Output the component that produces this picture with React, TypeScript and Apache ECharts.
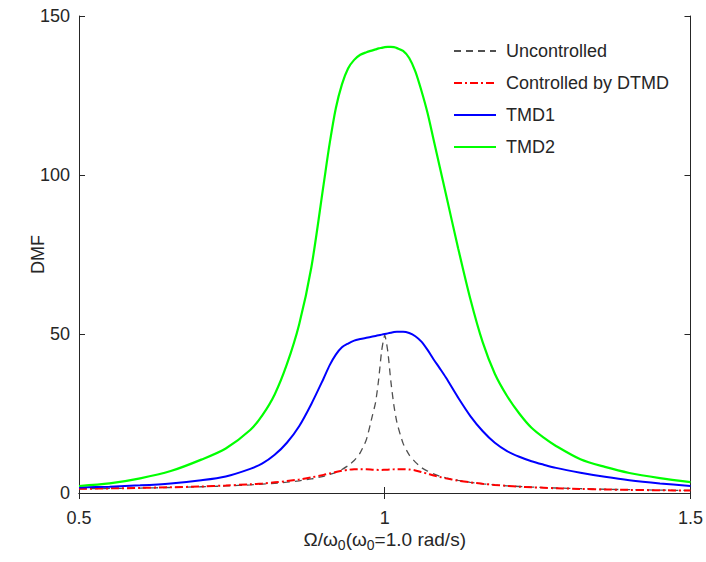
import React, { useEffect, useRef } from "react";
import * as echarts from "echarts";

const xs = [
  0.5, 0.55, 0.6, 0.65, 0.7, 0.74, 0.78, 0.8, 0.82, 0.84, 0.86, 0.88, 0.9, 0.91, 0.92, 0.93, 0.94, 0.95, 0.96,
  0.97, 0.98, 0.985, 0.99, 0.995, 1.0, 1.005, 1.01, 1.015, 1.02, 1.03, 1.04, 1.05, 1.06, 1.07, 1.08, 1.09, 1.1,
  1.12, 1.14, 1.16, 1.18, 1.2, 1.22, 1.24, 1.26, 1.28, 1.32, 1.36, 1.4, 1.45, 1.5,
];

const uncontrolled = [
  1.33, 1.43, 1.56, 1.73, 1.96, 2.21, 2.55, 2.78, 3.05, 3.4, 3.84, 4.43, 5.26, 5.8, 6.5, 7.4, 8.6, 10.2, 12.7,
  16.8, 24.5, 28.5, 35.6, 44.8, 49.6, 44.5, 35.1, 27.5, 22.1, 15.6, 12.0, 9.7, 8.0, 6.9, 6.0, 5.3, 4.76,
  3.95, 3.34, 2.89, 2.55, 2.27, 2.05, 1.86, 1.7, 1.57, 1.35, 1.18, 1.04, 0.91, 0.8,
];

const dtmd = [
  1.3, 1.45, 1.6, 1.8, 2.05, 2.35, 2.75, 3.0, 3.35, 3.75, 4.25, 4.9, 5.7, 6.15, 6.6, 7.0, 7.3, 7.45, 7.5,
  7.45, 7.35, 7.3, 7.25, 7.25, 7.3, 7.35, 7.4, 7.45, 7.5, 7.5, 7.4, 7.1, 6.6, 6.05, 5.5, 5.05, 4.6,
  3.9, 3.35, 2.9, 2.55, 2.25, 2.0, 1.8, 1.65, 1.5, 1.28, 1.1, 0.98, 0.86, 0.78,
];

const tmd1 = [
  1.7, 2.0, 2.4, 3.0, 4.0, 5.2, 7.6, 9.3, 12.0, 15.8, 21.0, 28.0, 36.0, 40.2, 43.5, 45.8, 47.0, 47.9, 48.4,
  48.8, 49.2, 49.4, 49.6, 49.8, 50.0, 50.2, 50.4, 50.6, 50.7, 50.7, 50.3, 49.3, 47.6, 45.0, 42.0, 39.2, 36.3,
  30.0, 24.2, 19.5, 15.8, 13.2, 11.4, 10.0, 8.9, 7.9, 6.4, 5.1, 4.0, 3.0, 2.2,
];

const tmd2 = [
  2.2, 3.0, 4.6, 6.9, 10.5, 14.0, 19.8, 24.5, 31.0, 40.5, 53.0, 71.0, 97.0, 110.0, 121.0, 128.5, 133.5, 136.2,
  137.8, 138.6, 139.2, 139.5, 139.8, 140.0, 140.2, 140.3, 140.3, 140.2, 139.9, 139.0, 136.8, 132.6, 126.5, 119.5,
  111.0, 102.5, 94.0, 77.0, 61.0, 47.5, 37.5, 30.5, 25.0, 20.5, 17.4, 14.8, 10.6, 8.2, 6.3, 4.7, 3.4,
];

const seriesNames = ["Uncontrolled", "Controlled by DTMD", "TMD1", "TMD2"];
const xTicks = { min: 0.5, max: 1.5, interval: 0.5 };
const yTicks = { min: 0, max: 150, interval: 50 };

const FONT = "Arial, 'Liberation Sans', Helvetica, sans-serif";
const AXIS_COLOR = "#262626";

export default function App() {
  const ref = useRef<HTMLDivElement>(null);

  useEffect(() => {
    document.body.style.margin = "0";
    if (!ref.current) return;
    const chart = echarts.init(ref.current, null, { renderer: "svg" });
    const pairs = (ys: number[]) => xs.map((x, i) => [x, ys[i]]);
    const boxAxis = {
      axisLine: { show: true, lineStyle: { color: AXIS_COLOR, width: 1 } },
      axisTick: { show: true, inside: true, length: 6, lineStyle: { color: AXIS_COLOR } },
      splitLine: { show: false },
    };
    chart.setOption({
      animation: false,
      backgroundColor: "#ffffff",
      textStyle: { fontFamily: FONT },
      grid: { left: 79, right: 15, top: 16, bottom: 69, containLabel: false },
      legend: {
        orient: "vertical",
        left: 448,
        top: 37,
        itemWidth: 42,
        itemHeight: 14,
        itemGap: 14,
        data: seriesNames,
        itemStyle: { opacity: 0 },
        textStyle: { fontSize: 18, color: "#262626", fontFamily: FONT, padding: [0, 0, 0, 5] },
      },
      xAxis: [
        {
          type: "value",
          ...xTicks,
          position: "bottom",
          ...boxAxis,
          axisLabel: {
            fontSize: 18,
            color: AXIS_COLOR,
            margin: 16,
            fontFamily: FONT,
            formatter: (v: number) => String(v),
          },
          name: "{a|Ω/ω}{s|0}{a|(ω}{s|0}{a|=1.0 rad/s)}",
          nameLocation: "middle",
          nameGap: 33,
          nameMoveOverlap: false,
          nameTextStyle: {
            rich: {
              a: { fontSize: 19, color: AXIS_COLOR, fontFamily: FONT },
              s: { fontSize: 14, color: AXIS_COLOR, fontFamily: FONT, padding: [12, 0, 0, 0] },
            },
          },
        },
        {
          type: "value",
          ...xTicks,
          position: "top",
          ...boxAxis,
          axisLabel: { show: false },
        },
      ],
      yAxis: [
        {
          type: "value",
          ...yTicks,
          position: "left",
          ...boxAxis,
          axisLabel: { fontSize: 18, color: AXIS_COLOR, margin: 9, fontFamily: FONT },
          name: "DMF",
          nameLocation: "middle",
          nameGap: 32,
          nameMoveOverlap: false,
          nameTextStyle: { fontSize: 18, color: AXIS_COLOR, fontFamily: FONT },
        },
        {
          type: "value",
          ...yTicks,
          position: "right",
          ...boxAxis,
          axisLabel: { show: false },
        },
      ],
      series: [
        {
          name: seriesNames[0],
          type: "line",
          data: pairs(uncontrolled),
          showSymbol: false,
          symbol: "none",
          smooth: 0.2,
          color: "#505050",
          lineStyle: { color: "#505050", width: 1.3, type: [7, 5] },
          z: 3,
        },
        {
          name: seriesNames[1],
          type: "line",
          data: pairs(dtmd),
          showSymbol: false,
          symbol: "none",
          smooth: 0.3,
          color: "#ff0000",
          lineStyle: { color: "#ff0000", width: 2, type: [8, 3, 2, 3] },
          z: 4,
        },
        {
          name: seriesNames[2],
          type: "line",
          data: pairs(tmd1),
          showSymbol: false,
          symbol: "none",
          smooth: 0.3,
          color: "#0000ff",
          lineStyle: { color: "#0000ff", width: 2 },
          z: 5,
        },
        {
          name: seriesNames[3],
          type: "line",
          data: pairs(tmd2),
          showSymbol: false,
          symbol: "none",
          smooth: 0.3,
          color: "#00ff00",
          lineStyle: { color: "#00ff00", width: 2.2 },
          z: 6,
        },
      ],
    });
    return () => chart.dispose();
  }, []);

  return <div ref={ref} style={{ width: 706, height: 562 }} />;
}
